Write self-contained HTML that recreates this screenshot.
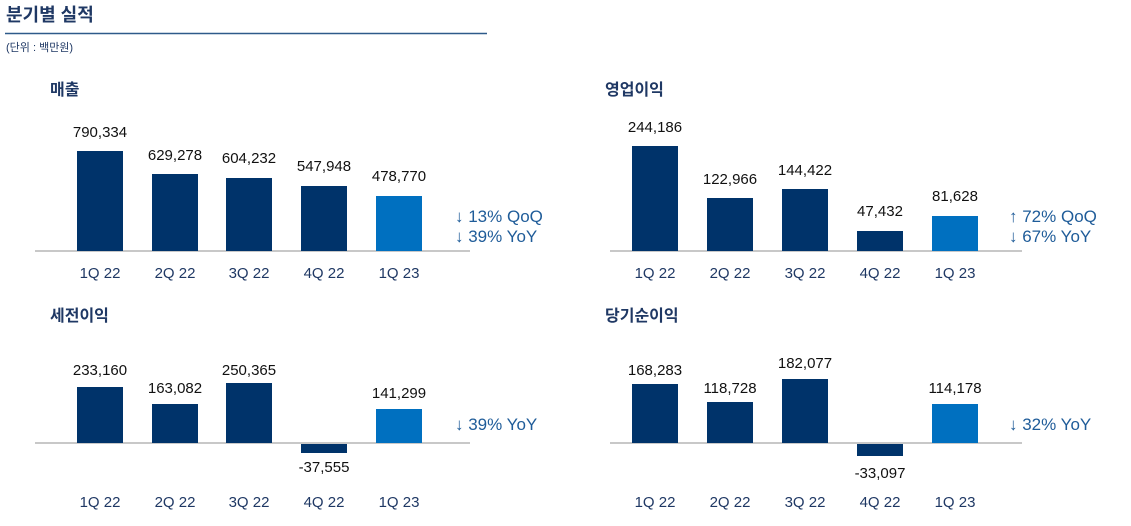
<!DOCTYPE html>
<html><head><meta charset="utf-8"><style>
body{margin:0;background:#fff;}
svg text{font-family:"Liberation Sans","Noto Sans CJK KR",sans-serif;}
</style></head><body>
<svg width="1131" height="521" xmlns="http://www.w3.org/2000/svg">
<text x="6" y="21" font-size="18" font-weight="bold" fill="#1f3864">분기별 실적</text>
<line x1="5" y1="33.5" x2="487" y2="33.5" stroke="#2e5a8a" stroke-width="1.5"/>
<text x="6" y="51" font-size="11" fill="#1f3864">(단위 : 백만원)</text>

<g font-size="16" fill="#1f3864" font-weight="bold">
<text x="50" y="95">매출</text><text x="605" y="95">영업이익</text>
<text x="50" y="321">세전이익</text><text x="605" y="321">당기순이익</text>
</g>

<g stroke="#c8c8c8" stroke-width="2">
<line x1="35" y1="251" x2="470" y2="251"/><line x1="610" y1="251" x2="1022" y2="251"/>
<line x1="35" y1="443" x2="470" y2="443"/><line x1="610" y1="443" x2="1022" y2="443"/>
</g>

<g fill="#00336a">
<rect x="77" y="151" width="46" height="100"/><rect x="152" y="174" width="46" height="77"/>
<rect x="226" y="178" width="46" height="73"/><rect x="301" y="186" width="46" height="65"/>
<rect x="632" y="146" width="46" height="105"/><rect x="707" y="198" width="46" height="53"/>
<rect x="782" y="189" width="46" height="62"/><rect x="857" y="231" width="46" height="20"/>
<rect x="77" y="387" width="46" height="56"/><rect x="152" y="404" width="46" height="39"/>
<rect x="226" y="383" width="46" height="60"/><rect x="301" y="444" width="46" height="9"/>
<rect x="632" y="384" width="46" height="59"/><rect x="707" y="402" width="46" height="41"/>
<rect x="782" y="379" width="46" height="64"/><rect x="857" y="444" width="46" height="12"/>
</g>
<g fill="#0070c0">
<rect x="376" y="196" width="46" height="55"/><rect x="932" y="216" width="46" height="35"/>
<rect x="376" y="409" width="46" height="34"/><rect x="932" y="404" width="46" height="39"/>
</g>

<g font-size="15" fill="#111" text-anchor="middle">
<text x="100" y="137">790,334</text><text x="175" y="160">629,278</text><text x="249" y="163">604,232</text><text x="324" y="171">547,948</text><text x="399" y="181">478,770</text>
<text x="655" y="132">244,186</text><text x="730" y="184">122,966</text><text x="805" y="175">144,422</text><text x="880" y="216">47,432</text><text x="955" y="201">81,628</text>
<text x="100" y="375">233,160</text><text x="175" y="393">163,082</text><text x="249" y="375">250,365</text><text x="324" y="472">-37,555</text><text x="399" y="398">141,299</text>
<text x="655" y="375">168,283</text><text x="730" y="393">118,728</text><text x="805" y="368">182,077</text><text x="880" y="478">-33,097</text><text x="955" y="393">114,178</text>
</g>

<g font-size="15" fill="#1f3864" text-anchor="middle">
<text x="100" y="278">1Q 22</text><text x="175" y="278">2Q 22</text><text x="249" y="278">3Q 22</text><text x="324" y="278">4Q 22</text><text x="399" y="278">1Q 23</text>
<text x="655" y="278">1Q 22</text><text x="730" y="278">2Q 22</text><text x="805" y="278">3Q 22</text><text x="880" y="278">4Q 22</text><text x="955" y="278">1Q 23</text>
<text x="100" y="507">1Q 22</text><text x="175" y="507">2Q 22</text><text x="249" y="507">3Q 22</text><text x="324" y="507">4Q 22</text><text x="399" y="507">1Q 23</text>
<text x="655" y="507">1Q 22</text><text x="730" y="507">2Q 22</text><text x="805" y="507">3Q 22</text><text x="880" y="507">4Q 22</text><text x="955" y="507">1Q 23</text>
</g>

<g font-size="17" fill="#1f5c99">
<text x="455" y="222">↓ 13% QoQ</text><text x="455" y="242">↓ 39% YoY</text>
<text x="1009" y="222">↑ 72% QoQ</text><text x="1009" y="242">↓ 67% YoY</text>
<text x="455" y="430">↓ 39% YoY</text><text x="1009" y="430">↓ 32% YoY</text>
</g>
</svg>
</body></html>
